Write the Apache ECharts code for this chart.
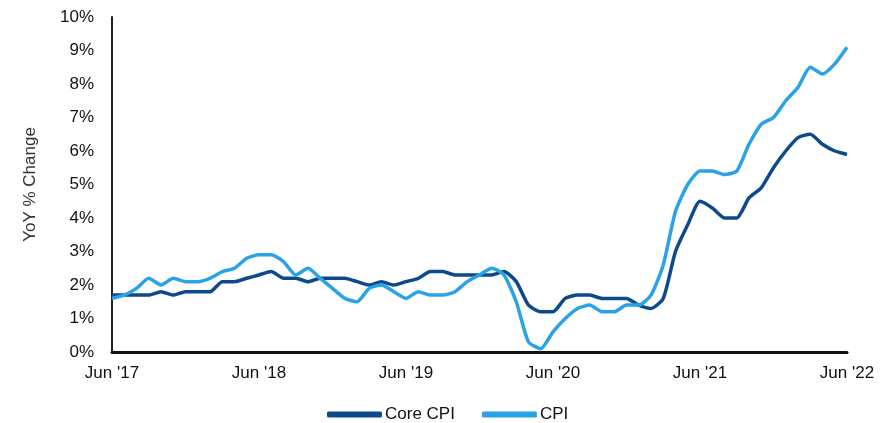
<!DOCTYPE html>
<html>
<head>
<meta charset="utf-8">
<script src="https://cdn.jsdelivr.net/npm/echarts@6/dist/echarts.min.js"></script>
<style>
html,body{margin:0;padding:0;background:#fff;}
#chart{width:894px;height:423px;}
</style>
</head>
<body>
<div id="chart"></div>
<script>
const months = ['Jan','Feb','Mar','Apr','May','Jun','Jul','Aug','Sep','Oct','Nov','Dec'];
const categories = [];
for (let y = 2017; y <= 2022; y++) {
  for (let m = 0; m < 12; m++) {
    if (y === 2017 && m < 5) continue;
    if (y === 2022 && m > 5) continue;
    categories.push(months[m] + " '" + String(y).slice(2));
  }
}
const coreCPI = [
  1.7, 1.7, 1.7, 1.7, 1.8, 1.7, 1.8,
  1.8, 1.8, 2.1, 2.1, 2.2, 2.3, 2.4, 2.2, 2.2, 2.1, 2.2, 2.2,
  2.2, 2.1, 2.0, 2.1, 2.0, 2.1, 2.2, 2.4, 2.4, 2.3, 2.3, 2.3,
  2.3, 2.4, 2.1, 1.4, 1.2, 1.2, 1.6, 1.7, 1.7, 1.6, 1.6, 1.6,
  1.4, 1.3, 1.6, 3.0, 3.8, 4.5, 4.3, 4.0, 4.0, 4.6, 4.9, 5.5,
  6.0, 6.4, 6.5, 6.2, 6.0, 5.9
];
const cpi = [
  1.6, 1.7, 1.9, 2.2, 2.0, 2.2, 2.1,
  2.1, 2.2, 2.4, 2.5, 2.8, 2.9, 2.9, 2.7, 2.3, 2.5, 2.2, 1.9,
  1.6, 1.5, 1.9, 2.0, 1.8, 1.6, 1.8, 1.7, 1.7, 1.8, 2.1, 2.3,
  2.5, 2.3, 1.5, 0.3, 0.1, 0.6, 1.0, 1.3, 1.4, 1.2, 1.2, 1.4,
  1.4, 1.7, 2.6, 4.2, 5.0, 5.4, 5.4, 5.3, 5.4, 6.2, 6.8, 7.0,
  7.5, 7.9, 8.5, 8.3, 8.6, 9.1
];
const yTicks = [0,1,2,3,4,5,6,7,8,9,10];

const chart = echarts.init(document.getElementById('chart'), null, {renderer:'canvas'});
chart.setOption({
  animation: false,
  backgroundColor: '#fff',
  textStyle: { fontFamily: 'Liberation Sans, Arial, sans-serif' },
  grid: { left: 112, right: 47, top: 17, bottom: 71, containLabel: false },
  legend: {
    top: 401,
    left: 322,
    icon: 'roundRect',
    itemWidth: 55,
    itemHeight: 6,
    itemGap: 27,
    textStyle: { fontSize: 17, color: '#111', fontFamily: 'Liberation Sans, Arial, sans-serif', padding: [0, 0, 0, -2] },
    data: ['Core CPI', 'CPI']
  },
  xAxis: {
    type: 'category',
    data: categories,
    boundaryGap: false,
    axisLine: { lineStyle: { color: '#111', width: 3 } },
    axisTick: { show: false },
    axisLabel: { interval: 11, color: '#111', fontSize: 17, margin: 13 },
    splitLine: { show: false }
  },
  yAxis: {
    type: 'value',
    min: yTicks[0],
    max: yTicks[yTicks.length - 1],
    interval: 1,
    name: 'YoY % Change',
    nameLocation: 'middle',
    nameGap: 73,
    nameRotate: 90,
    nameTextStyle: { fontSize: 17, color: '#333' },
    axisLine: { show: true, lineStyle: { color: '#222', width: 2 } },
    axisTick: { show: false },
    axisLabel: { formatter: '{value}%', color: '#111', fontSize: 17, margin: 18 },
    splitLine: { show: false }
  },
  series: [
    {
      name: 'Core CPI',
      type: 'line',
      data: coreCPI,
      symbol: 'none',
      smooth: 0.2,
      lineStyle: { color: '#0d4a8c', width: 3.5 },
      itemStyle: { color: '#0d4a8c' },
      z: 2
    },
    {
      name: 'CPI',
      type: 'line',
      data: cpi,
      symbol: 'none',
      smooth: 0.2,
      lineStyle: { color: '#2aa2ea', width: 3.5 },
      itemStyle: { color: '#2aa2ea' },
      z: 3
    }
  ]
});
</script>
</body>
</html>
